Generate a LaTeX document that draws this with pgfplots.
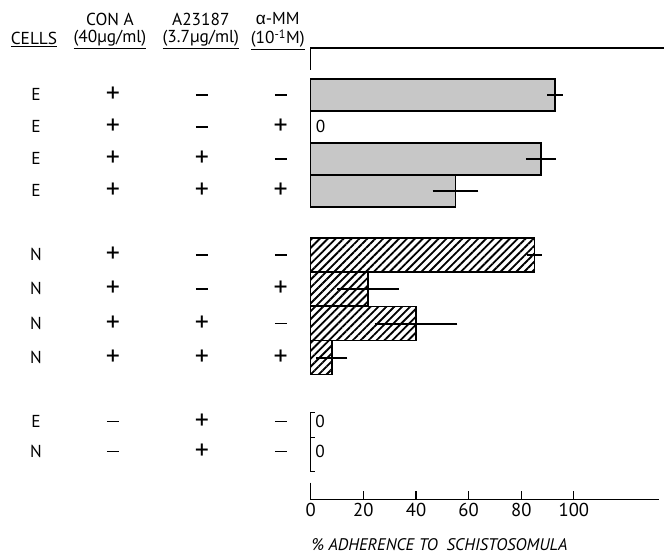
\documentclass[border=0pt]{standalone}
\usepackage{pgfplots}
\pgfplotsset{compat=1.18}
\usetikzlibrary{patterns.meta}
\usepackage{fontspec}
\setmainfont{PT Sans}
\newfontfamily\greek{Liberation Sans}

% row marks
\newcommand\p{{\fontsize{21}{21}\selectfont +}}
\newcommand\m{\rule{9pt}{1.1pt}}

\begin{document}
\begin{tikzpicture}[
  every node/.style={font=\fontsize{13}{14}\selectfont},
  frame line/.style={line width=0.9pt},
]
\begin{axis}[
  x=1.975pt, y=0.75pt,
  xmin=0, xmax=132.5,
  ymin=-500, ymax=-48,
  enlargelimits=false,
  clip=false,
  axis x line*=bottom,
  axis y line=none,
  axis line style={line width=0.9pt},
  xtick={0,20,40,60,80,100},
  tick align=inside,
  major tick length=6.75pt,
  tick style={line width=0.9pt, black},
  xticklabel style={font=\fontsize{14}{14}\selectfont, yshift=1pt},
  /pgf/number format/assume math mode=true,
  error bars/error bar style={line width=1.3pt, black},
  error bars/error mark options={line width=1.3pt, mark size=3.4pt, black},
]

% E cells (stippled)
\addplot[xbar, bar shift=0pt, bar width=32, draw=black, line width=1.1pt, fill=black!22,
  error bars/.cd, x dir=both, x explicit]
  coordinates {
    (92.8,-95) +- (1.2,0)
    (87.5,-159) +- (4,0)
    (55,-191) +- (7,0)
  };
% E, zero adherence
\addplot[xbar, bar shift=0pt, bar width=32, draw=black, line width=1.1pt,
  nodes near coords={0}, every node near coord/.append style={anchor=west, font=\fontsize{13}{14}\selectfont}]
  coordinates {(0,-127)};

% N cells (hatched)
\addplot[xbar, bar shift=0pt, bar width=34, draw=black, line width=1.1pt, fill=white,
  pattern={Lines[angle=45, distance=4.2pt, line width=1.4pt]},
  error bars/.cd, x dir=both, x explicit]
  coordinates {
    (85,-255) +- (1,0)
    (21.7,-289) +- (10,0)
    (40,-324) +- (14,0)
    (8,-358) +- (4.2,0)
  };

% A23187 alone, zero adherence
\addplot[xbar, bar shift=0pt, bar width=25, draw=none,
  nodes near coords={0}, every node near coord/.append style={anchor=west, font=\fontsize{13}{14}\selectfont}]
  coordinates {(0,-422) (0,-452)};

% bracket for the last two rows
\draw[frame line] (axis cs:1.6,-413) -- (axis cs:0,-413) -- (axis cs:0,-472) -- (axis cs:1.6,-472);
\draw[frame line] (axis cs:0,-438) -- (axis cs:1.6,-438);

% frame pieces
\draw[frame line] (axis cs:0,-70) -- (axis cs:0,-48) -- (axis cs:134.4,-48);
\draw[frame line] (axis cs:0,-483) -- (axis cs:0,-500);

% axis title
\node[anchor=west, inner sep=0pt] at (axis cs:0.3,-545) {\fontsize{12.6}{14}\selectfont\itshape \% ADHERENCE TO\ \ SCHISTOSOMULA};

\coordinate (o) at (axis cs:0,0);
% page size
\path (axis cs:-118.1,0) rectangle (axis cs:134.5,-559);
\end{axis}

% table on the left, in pixel offsets from the zero of the axis
\begin{scope}[shift={(o)}, x=0.75pt, y=-0.75pt]
\node at (-277,40) {\underline{CELLS}};
\node at (-201,19) {CON A};
\node at (-201,40) {\underline{(40µg/ml)}};
\node at (-110,19) {A23187};
\node at (-110,40) {\underline{(3.7µg/ml)}};
\node at (-33,19) {{\greek α}-MM};
\node at (-33,40) {\underline{(10\textsuperscript{-1}M)}};
\foreach \y/\c/\a/\b/\d in {
  95/E/\p/\m/\m, 127/E/\p/\m/\p, 159/E/\p/\p/\m, 191/E/\p/\p/\p,
  255/N/\p/\m/\m, 289/N/\p/\m/\p, 324/N/\p/\p/\m, 358/N/\p/\p/\p,
  422/E/\m/\p/\m, 452/N/\m/\p/\m} {
  \node at (-275,\y) {\c};
  \node at (-198,\y) {\a};
  \node at (-109,\y) {\b};
  \node at (-30,\y) {\d};
}
\end{scope}
\end{tikzpicture}
\end{document}
